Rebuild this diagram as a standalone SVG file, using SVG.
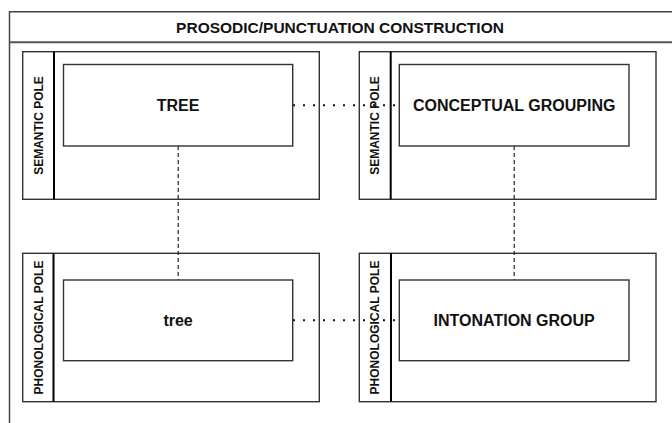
<svg xmlns="http://www.w3.org/2000/svg" width="672" height="423" viewBox="0 0 672 423">
  <style>
    .frame { fill: #ffffff; stroke: #444444; stroke-width: 1.5; }
    .pole { fill: #ffffff; stroke: #333333; stroke-width: 1.4; }
    .divider { stroke: #000000; stroke-width: 2; }
    .item { fill: #ffffff; stroke: #333333; stroke-width: 1.4; }
    .label { font-family: "Liberation Sans", Arial, sans-serif; font-weight: bold; fill: #111111; text-anchor: middle; }
    .title { font-size: 15.5px; }
    .node-text { font-size: 16px; }
    .pole-text { font-size: 12px; }
    .dotted { fill: none; stroke: #111111; stroke-width: 2; stroke-dasharray: 2 8; }
    .dashed { fill: none; stroke: #222222; stroke-width: 1.2; stroke-dasharray: 4 3; }
  </style>

  <!-- construction frame, running past the right and bottom edges -->
  <g id="construction">
    <rect class="frame" x="9.5" y="11.75" width="700" height="440"/>
    <line x1="9.5" y1="42.25" x2="672" y2="42.25" stroke="#555555" stroke-width="2"/>
    <text class="label title" x="340" y="32.5">PROSODIC/PUNCTUATION CONSTRUCTION</text>
  </g>

  <!-- semantic pole, left -->
  <g id="semantic-pole-left">
    <rect class="pole" x="22.7" y="51.7" width="296.6" height="147.6"/>
    <line class="divider" x1="54" y1="51.7" x2="54" y2="199.3"/>
    <text class="label pole-text" transform="translate(42.6,125.5) rotate(-90)">SEMANTIC POLE</text>
  </g>

  <!-- semantic pole, right -->
  <g id="semantic-pole-right">
    <rect class="pole" x="359.3" y="51.7" width="296.7" height="147.6"/>
    <line class="divider" x1="390.7" y1="51.7" x2="390.7" y2="199.3"/>
    <text class="label pole-text" transform="translate(379.3,125.5) rotate(-90)">SEMANTIC POLE</text>
  </g>

  <!-- phonological pole, left -->
  <g id="phonological-pole-left">
    <rect class="pole" x="22.7" y="253.3" width="296.6" height="148.4"/>
    <line class="divider" x1="53.5" y1="253.3" x2="53.5" y2="401.7"/>
    <text class="label pole-text" transform="translate(42.6,327.5) rotate(-90)">PHONOLOGICAL POLE</text>
  </g>

  <!-- phonological pole, right -->
  <g id="phonological-pole-right">
    <rect class="pole" x="359.3" y="253.3" width="296.7" height="148.4"/>
    <line class="divider" x1="391" y1="253.3" x2="391" y2="401.7"/>
    <text class="label pole-text" transform="translate(379.3,327.5) rotate(-90)">PHONOLOGICAL POLE</text>
  </g>

  <!-- connectors -->
  <g id="connectors">
    <line class="dotted" x1="293" y1="105.2" x2="399.3" y2="105.2"/>
    <line class="dotted" x1="293" y1="320.3" x2="399.3" y2="320.3"/>
    <line class="dashed" x1="178.2" y1="146" x2="178.2" y2="280"/>
    <line class="dashed" x1="514.2" y1="146" x2="514.2" y2="280"/>
  </g>

  <!-- content boxes -->
  <g id="tree-meaning">
    <rect class="item" x="63.5" y="64.5" width="229.2" height="81.5"/>
    <text class="label node-text" x="178.1" y="111">TREE</text>
  </g>
  <g id="conceptual-grouping">
    <rect class="item" x="399.3" y="64.5" width="229.7" height="81.5"/>
    <text class="label node-text" x="514.2" y="111">CONCEPTUAL GROUPING</text>
  </g>
  <g id="tree-form">
    <rect class="item" x="63.5" y="280" width="229.2" height="80.7"/>
    <text class="label node-text" x="178.1" y="326">tree</text>
  </g>
  <g id="intonation-group">
    <rect class="item" x="399.3" y="280" width="229.7" height="80.7"/>
    <text class="label node-text" x="514.2" y="326">INTONATION GROUP</text>
  </g>
</svg>
